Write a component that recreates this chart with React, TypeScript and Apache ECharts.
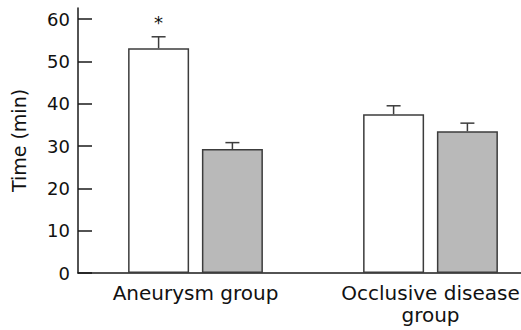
import React, { useEffect, useRef } from "react";
import * as echarts from "echarts";

const categories = ["Aneurysm group", "Occlusive disease\ngroup"];
const seriesNames = ["Group A", "Group B"];
const whiteMeans = [53.1, 37.5];
const whiteUpper = [55.8, 39.5];
const greyMeans = [29.3, 33.5];
const greyUpper = [30.8, 35.4];
const whiteSignificance = ["*", ""];
const yTicks = [0, 10, 20, 30, 40, 50, 60];
const yMax = 62.6;

const BAR_W = 61;
const GAP_PCT = 21;
const HALF_OFFSET = (BAR_W + (BAR_W * GAP_PCT) / 100) / 2;

export default function App() {
  const ref = useRef<HTMLDivElement>(null);
  useEffect(() => {
    if (!ref.current) return;
    const chart = echarts.init(ref.current, null, { renderer: "svg" });
    const errData: any[] = [];
    categories.forEach((_, i) => {
      errData.push([i, whiteMeans[i], whiteUpper[i], -1, whiteSignificance[i]]);
      errData.push([i, greyMeans[i], greyUpper[i], 1, ""]);
    });
    const font = "DejaVu Sans";
    chart.setOption({
      animation: false,
      textStyle: { fontFamily: font },
      grid: { left: 78, top: 8, width: 470, height: 265, outerBoundsMode: "none" },
      xAxis: {
        type: "category",
        data: categories,
        axisLine: { lineStyle: { color: "#1a1a1a", width: 1.5 } },
        axisTick: { show: false },
        axisLabel: {
          color: "#111",
          fontSize: 20,
          lineHeight: 22,
          margin: 9,
          fontFamily: font,
          interval: 0,
        },
      },
      yAxis: {
        type: "value",
        min: 0,
        max: yMax,
        interval: 10,
        name: "Time (min)",
        nameLocation: "middle",
        nameRotate: 90,
        nameGap: 50,
        nameTextStyle: { color: "#111", fontSize: 19, fontFamily: font },
        splitLine: { show: false },
        axisLine: { show: true, lineStyle: { color: "#1a1a1a", width: 1.5 } },
        axisTick: {
          show: true,
          inside: true,
          length: 14,
          customValues: yTicks,
          lineStyle: { color: "#1a1a1a", width: 1.5 },
        },
        axisLabel: {
          color: "#111",
          fontSize: 18,
          margin: 8,
          fontFamily: font,
          customValues: yTicks,
        },
      },
      series: [
        {
          name: seriesNames[0],
          type: "bar",
          data: whiteMeans,
          barWidth: BAR_W,
          barGap: GAP_PCT + "%",
          itemStyle: { color: "#ffffff", borderColor: "#3c3c3c", borderWidth: 1.5 },
        },
        {
          name: seriesNames[1],
          type: "bar",
          data: greyMeans,
          barWidth: BAR_W,
          barGap: GAP_PCT + "%",
          itemStyle: { color: "#b9b9b9", borderColor: "#3c3c3c", borderWidth: 1.5 },
        },
        {
          type: "custom",
          data: errData,
          z: 5,
          renderItem: (params: any, api: any) => {
            const cat = api.value(0);
            const mean = api.value(1);
            const up = api.value(2);
            const side = api.value(3);
            const sig = errData[params.dataIndex][4];
            const p0 = api.coord([cat, mean]);
            const p1 = api.coord([cat, up]);
            const x = p0[0] + side * HALF_OFFSET;
            const stroke = { stroke: "#3c3c3c", lineWidth: 1.5 };
            const children: any[] = [
              { type: "line", shape: { x1: x, y1: p0[1], x2: x, y2: p1[1] }, style: stroke },
              { type: "line", shape: { x1: x - 7, y1: p1[1], x2: x + 7, y2: p1[1] }, style: stroke },
            ];
            if (sig) {
              const ps = api.coord([cat, yMax - 1.5]);
              children.push({
                type: "text",
                x: x,
                y: ps[1] + 8,
                style: {
                  text: sig,
                  fill: "#111",
                  fontSize: 18,
                  fontFamily: font,
                  align: "center",
                  verticalAlign: "middle",
                },
              });
            }
            return { type: "group", children };
          },
        },
      ],
    });
    return () => chart.dispose();
  }, []);
  return (
    <div
      ref={ref}
      style={{ position: "fixed", left: 0, top: 0, width: 521, height: 330, background: "#fff" }}
    />
  );
}
